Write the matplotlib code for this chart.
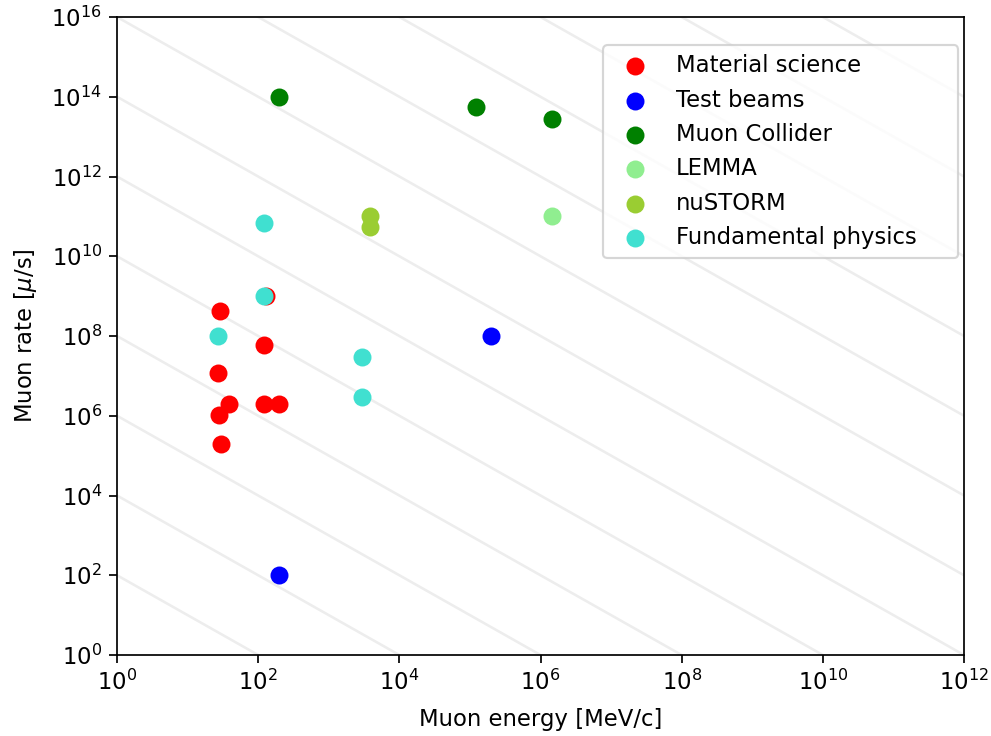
import numpy as np
import matplotlib
matplotlib.use("Agg")
import matplotlib.pyplot as plt

plt.rcParams["font.size"] = 10.6

# ── data (energy in MeV/c, rate in mu/s) ───────────────────────────────────
mat_E    = [29, 27, 39, 28, 30, 121, 121, 200, 130]
mat_rate = [4.3e8, 1.15e7, 2e6, 1.05e6, 2e5, 5.8e7, 2e6, 2e6, 1e9]

test_E    = [2e5, 200]
test_rate = [1e8, 1e2]

coll_E    = [200, 1.2e5, 1.45e6]
coll_rate = [1e14, 5.6e13, 2.8e13]

lemma_E    = [1.45e6]
lemma_rate = [1e11]

nus_E    = [3.8e3, 3.8e3]
nus_rate = [1e11, 5.5e10]

fund_E    = [121, 121, 27, 2950, 2950]
fund_rate = [7e10, 1e9, 1e8, 3e7, 3e6]

# background guide lines of constant rate * E = 10^c
guide_c = list(range(0, 30, 2))

fig = plt.figure(figsize=(991 / 155, 736 / 155), dpi=155)
ax = fig.add_axes([117 / 991, 1 - 655 / 736, 847 / 991, 638 / 736])

xx = np.logspace(0, 12, 200)
for c in guide_c:
    ax.plot(xx, 10.0 ** c / xx, color="grey", alpha=0.14, lw=1.2, zorder=0)

s = 54
ax.scatter(mat_E, mat_rate, s=s, color="red", label="Material science")
ax.scatter(test_E, test_rate, s=s, color="blue", label="Test beams")
ax.scatter(coll_E, coll_rate, s=s, color="green", label="Muon Collider")
ax.scatter(lemma_E, lemma_rate, s=s, color="lightgreen", label="LEMMA")
ax.scatter(nus_E, nus_rate, s=s, color="yellowgreen", label="nuSTORM")
ax.scatter(fund_E, fund_rate, s=s, color="turquoise", label="Fundamental physics")

ax.set_xscale("log")
ax.set_yscale("log")
ax.set_xlim(1, 1e12)
ax.set_ylim(1, 1e16)
ax.set_xticks([10.0 ** i for i in range(0, 13, 2)])
ax.set_yticks([10.0 ** i for i in range(0, 17, 2)])
ax.minorticks_off()

ax.set_xlabel("Muon energy [MeV/c]", labelpad=6)
ax.set_ylabel(r"Muon rate [$\mu$/s]", labelpad=6)

ax.legend(loc="upper left", bbox_to_anchor=(0.574, 0.5, 0.419, 0.456),
          mode="expand", borderaxespad=0)

fig.savefig("out.png", dpi=155)
